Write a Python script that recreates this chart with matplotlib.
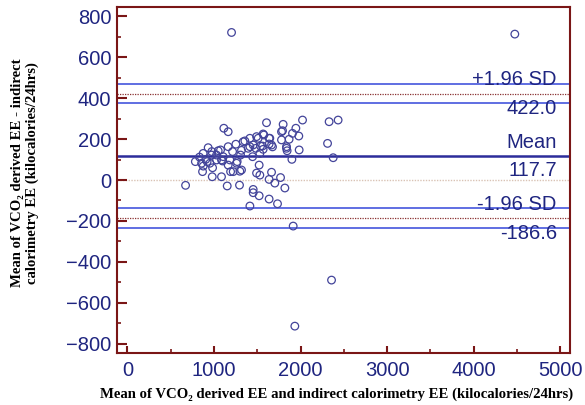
import matplotlib
matplotlib.use("Agg")
import matplotlib.pyplot as plt
from matplotlib.ticker import MultipleLocator

# Data: mean of the two methods (x) and difference (y)
x_mean = [672, 785, 833, 857, 868, 876, 875, 906, 921, 933, 953, 972, 975, 984, 980,
          1030, 1030, 1049, 1076, 1087, 1087, 1099, 1107, 1114, 1164, 1153, 1164, 1164,
          1184, 1192, 1203,
          1215, 1222, 1253, 1261, 1268, 1295, 1299, 1307, 1318, 1318, 1337, 1357,
          1395, 1415, 1415, 1415, 1446, 1453, 1453, 1453, 1484, 1492, 1492, 1511, 1522,
          1530, 1530, 1522, 1538, 1561, 1568, 1568, 1576, 1607,
          1637, 1637, 1637, 1637, 1645, 1665, 1665, 1676, 1703, 1734, 1769, 1780, 1780,
          1792, 1799, 1819,
          1838, 1845, 1838, 1868, 1900, 1907, 1915, 1934, 1946, 1980, 1984, 2023,
          2312, 2330, 2358, 2377, 2434, 4475]
y_diff = [-26, 90, 112, 82, 41, 68, 130, 101, 90, 158, 82, 122, 139, 60, 16,
          98, 122, 143, 147, 98, 16, 93, 114, 253, 236, -29, 163, 73,
          98, 41, 721,
          139, 41, 175, 82, 90, -25, 43, 122, 145, 49, 187, 191,
          155, 204, 163, -127, 114, 171, -62, -46, 155, 212, 34, 204, 73,
          130, 24, -77, 166, 166, 225, 150, 220, 280,
          204, 176, -93, 3, 204, 171, 38, 162, -15, -116, 12, 196, 236,
          241, 272, -39,
          163, 143, 155, 199, 101, 228, -225, -714, 253, 215, 147, 293,
          179, 285, -489, 109, 293, 713]

mean_diff = 117.7
upper_loa = 422.0
lower_loa = -186.6
upper_ci = [375, 468]
lower_ci = [-139, -236]

xticks = [0, 1000, 2000, 3000, 4000, 5000]
yticks = [-800, -600, -400, -200, 0, 200, 400, 600, 800]

navy = "#1f2580"
spine_col = "#7a1616"

fig = plt.figure(figsize=(5.85, 4.05), dpi=100)
ax = fig.add_axes([0.2, 0.128, 0.774, 0.855])

ax.axhline(0, color="#d9c3b5", lw=1.0, ls=(0, (1, 1)), zorder=1)
for v in upper_ci + lower_ci:
    ax.axhline(v, color="#4455dd", lw=1.2, zorder=2)
for v in [upper_loa, lower_loa]:
    ax.axhline(v, color="#8b3030", lw=0.9, ls=(0, (1, 1)), zorder=2)
ax.axhline(mean_diff, color="#2c2c9a", lw=1.8, zorder=2)

ax.scatter(x_mean, y_diff, s=30, facecolors="none", edgecolors="#43449a",
           linewidths=0.9, zorder=3)

tx = 4960
fs = 14.5
def lab(y, s, above):
    ax.annotate(s, xy=(tx, y), xytext=(0, 3 if above else -4), textcoords="offset points",
                ha="right", va="bottom" if above else "top", color=navy,
                fontsize=fs, family="Liberation Sans", zorder=4)
lab(upper_loa, "+1.96 SD", True)
lab(upper_loa, f"{upper_loa:.1f}", False)
lab(mean_diff, "Mean", True)
lab(mean_diff, f"{mean_diff:.1f}", False)
lab(lower_loa, "-1.96 SD", True)
lab(lower_loa, f"{lower_loa:.1f}", False)

ax.set_xlim(-120, 5110)
ax.set_ylim(-846, 846)
ax.set_xticks(xticks)
ax.set_yticks(yticks)
ax.xaxis.set_minor_locator(MultipleLocator(500))
ax.yaxis.set_minor_locator(MultipleLocator(100))
ax.tick_params(axis="both", which="major", direction="in", color=spine_col, width=1.5,
               labelcolor=navy, labelsize=fs)
ax.tick_params(axis="y", which="major", length=7, pad=4)
ax.tick_params(axis="x", which="major", length=5, pad=6)
ax.tick_params(axis="both", which="minor", direction="in", color=spine_col, width=1.2, length=3)
for lbl in ax.get_xticklabels() + ax.get_yticklabels():
    lbl.set_family("Liberation Sans")
for sp in ax.spines.values():
    sp.set_color(spine_col)
    sp.set_linewidth(1.5)

ax.set_xlabel("Mean of VCO\u2082 derived EE and indirect calorimetry EE (kilocalories/24hrs)",
              family=["Liberation Serif", "DejaVu Serif"], fontweight="bold", fontsize=10.6,
              labelpad=5)
ax.xaxis.label.set_x(0.485)
fig.text(0.042, 0.573, "Mean of VCO\u2082 derived EE - indirect\ncalorimetry EE (kilocalories/24hrs)",
         rotation=90, ha="center", va="center", family=["Liberation Serif", "DejaVu Serif"],
         fontweight="bold", fontsize=10.6, linespacing=1.15)

fig.savefig("out.png", dpi=100)
